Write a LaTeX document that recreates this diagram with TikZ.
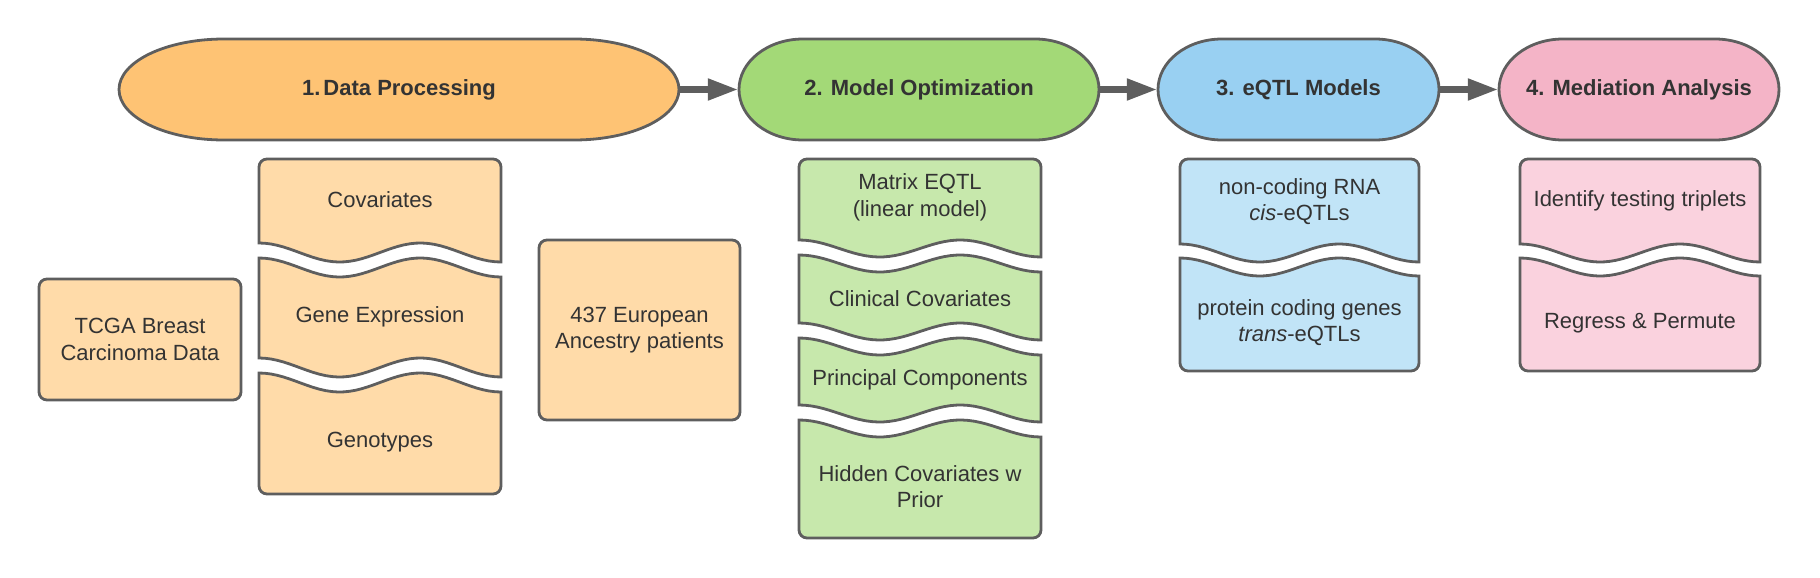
\documentclass[tikz,border=0pt]{standalone}
\usepackage{fontspec}
\setmainfont{Liberation Sans}
\usetikzlibrary{arrows.meta}
\definecolor{edge}{HTML}{5E5E5E}
\definecolor{txt}{HTML}{333333}
\definecolor{orD}{HTML}{FEC374}
\definecolor{orL}{HTML}{FFDBA9}
\definecolor{grD}{HTML}{A3D977}
\definecolor{grL}{HTML}{C7E8AC}
\definecolor{blD}{HTML}{99D0F2}
\definecolor{blL}{HTML}{C1E4F7}
\definecolor{pkD}{HTML}{F4B4C7}
\definecolor{pkL}{HTML}{FAD2DE}
\tikzset{
  shp/.style={draw=edge,line width=2.8pt},
  lbl/.style={text=txt,font=\fontsize{22}{26.4}\selectfont,align=center,inner sep=0pt},
  hd/.style={text=txt,font=\bfseries\fontsize{22}{26.4}\selectfont,inner sep=0pt},
  box/.style={shp,rounded corners=8pt,inner sep=0pt,align=center,text=txt,font=\fontsize{22}{26.4}\selectfont},
  flow/.style={draw=edge,line width=7.5pt,-{Triangle[length=31pt,width=20pt]}}
}
% stadium: x1 x2 top bottom rx fill
\newcommand{\stadium}[6]{%
  \pgfmathsetmacro\cy{(#3+#4)/2}%
  \pgfmathsetmacro\ky{0.5523*(#4-#3)/2}%
  \pgfmathsetmacro\kx{0.5523*#5}%
  \draw[shp,fill=#6] ({#1+#5},#3) -- ({#2-#5},#3)
    .. controls ({#2-#5+\kx},#3) and (#2,{\cy-\ky}) .. (#2,\cy)
    .. controls (#2,{\cy+\ky}) and ({#2-#5+\kx},#4) .. ({#2-#5},#4)
    -- ({#1+#5},#4)
    .. controls ({#1+#5-\kx},#4) and (#1,{\cy+\ky}) .. (#1,\cy)
    .. controls (#1,{\cy-\ky}) and ({#1+#5-\kx},#3) .. ({#1+#5},#3) -- cycle;}
% top section: L R top y0 d fill
\newcommand{\topsec}[6]{%
  \draw[shp,fill=#6] (#2,{#4+#5}) -- (#2,{#3+8})
    .. controls (#2,{#3+3.58}) and ({#2-3.58},#3) .. ({#2-8},#3)
    -- ({#1+8},#3)
    .. controls ({#1+3.58},#3) and (#1,{#3+3.58}) .. (#1,{#3+8})
    -- (#1,#4)
    -- plot[domain=0:1,samples=41,variable=\wt] ({#1+\wt*(#2-#1)},{#4+#5*(1-cos(540*\wt))/2}) -- cycle;}
% middle section: L R ytop ybottom d fill
\newcommand{\midsec}[6]{%
  \draw[shp,fill=#6] plot[domain=0:1,samples=41,variable=\wt] ({#1+\wt*(#2-#1)},{#3+#5*(1-cos(540*\wt))/2})
    -- plot[domain=1:0,samples=41,variable=\wt] ({#1+\wt*(#2-#1)},{#4+#5*(1-cos(540*\wt))/2}) -- cycle;}
% bottom section: L R ytop bottom d fill
\newcommand{\botsec}[6]{%
  \draw[shp,fill=#6] plot[domain=0:1,samples=41,variable=\wt] ({#1+\wt*(#2-#1)},{#3+#5*(1-cos(540*\wt))/2})
    -- (#2,{#4-8})
    .. controls (#2,{#4-3.58}) and ({#2-3.58},#4) .. ({#2-8},#4)
    -- ({#1+8},#4)
    .. controls ({#1+3.58},#4) and (#1,{#4-3.58}) .. (#1,{#4-8}) -- cycle;}
\begin{document}
\begin{tikzpicture}[x=1pt,y=-1pt]
\useasboundingbox (0,0) rectangle (1820,578);
% heading shapes
\stadium{119}{679}{39}{140}{105}{orD}
\stadium{739}{1099}{39}{140}{64}{grD}
\stadium{1158}{1439}{39}{140}{64}{blD}
\stadium{1499}{1779}{39}{140}{64}{pkD}
\node[hd,minimum width=560pt,minimum height=101pt] (e1) at (399,89.5) {1.\kern3pt Data Processing};
\node[hd,minimum width=360pt,minimum height=101pt] (s2) at (919,89.5) {2. Model Optimization};
\node[hd,minimum width=281pt,minimum height=101pt] (s3) at (1298.5,89.5) {3. eQTL Models};
\node[hd,minimum width=280pt,minimum height=101pt] (s4) at (1639,89.5) {4. Mediation Analysis};
\draw[flow] (e1.east) -- (s2.west);
\draw[flow] (s2.east) -- (s3.west);
\draw[flow] (s3.east) -- (s4.west);
% data processing
\node[box,fill=orL,minimum width=202pt,minimum height=121pt] (tcga) at (140,339.5) {TCGA Breast\\Carcinoma Data};
\topsec{259}{501}{159}{243}{19}{orL}
\midsec{259}{501}{258}{358}{19}{orL}
\botsec{259}{501}{373}{494}{19}{orL}
\node[lbl] (cov) at (380,199.5) {Covariates};
\node[lbl] (gexp) at (380,317) {Gene Expression};
\node[lbl] (geno) at (380,442) {Genotypes};
\node[box,fill=orL,minimum width=201pt,minimum height=180pt] (pat) at (639.5,330) {437 European\\Ancestry patients};
% model optimization
\topsec{799}{1041}{159}{240}{17}{grL}
\midsec{799}{1041}{255}{323}{17}{grL}
\midsec{799}{1041}{338}{405}{17}{grL}
\botsec{799}{1041}{420}{538}{17}{grL}
\node[lbl] (mat) at (920,197.5) {Matrix EQTL\\(linear model)};
\node[lbl] (clin) at (920,298.5) {Clinical Covariates};
\node[lbl] (pc) at (920,379.5) {Principal Components};
\node[lbl] (hid) at (920,486.5) {Hidden Covariates w\\Prior};
% eQTL models
\topsec{1180}{1419}{159}{244}{18}{blL}
\botsec{1180}{1419}{258}{371}{18}{blL}
\node[lbl] (ncr) at (1299.5,201.5) {non-coding RNA\\\textit{cis}-eQTLs};
\node[lbl] (pcg) at (1299.5,322.5) {protein coding genes\\\textit{trans}-eQTLs};
% mediation analysis
\topsec{1520}{1760}{159}{244}{18}{pkL}
\botsec{1520}{1760}{258}{371}{18}{pkL}
\node[lbl] (itt) at (1640,200.5) {Identify testing triplets};
\node[lbl] (rp) at (1640,323.5) {Regress \& Permute};
\end{tikzpicture}
\end{document}
